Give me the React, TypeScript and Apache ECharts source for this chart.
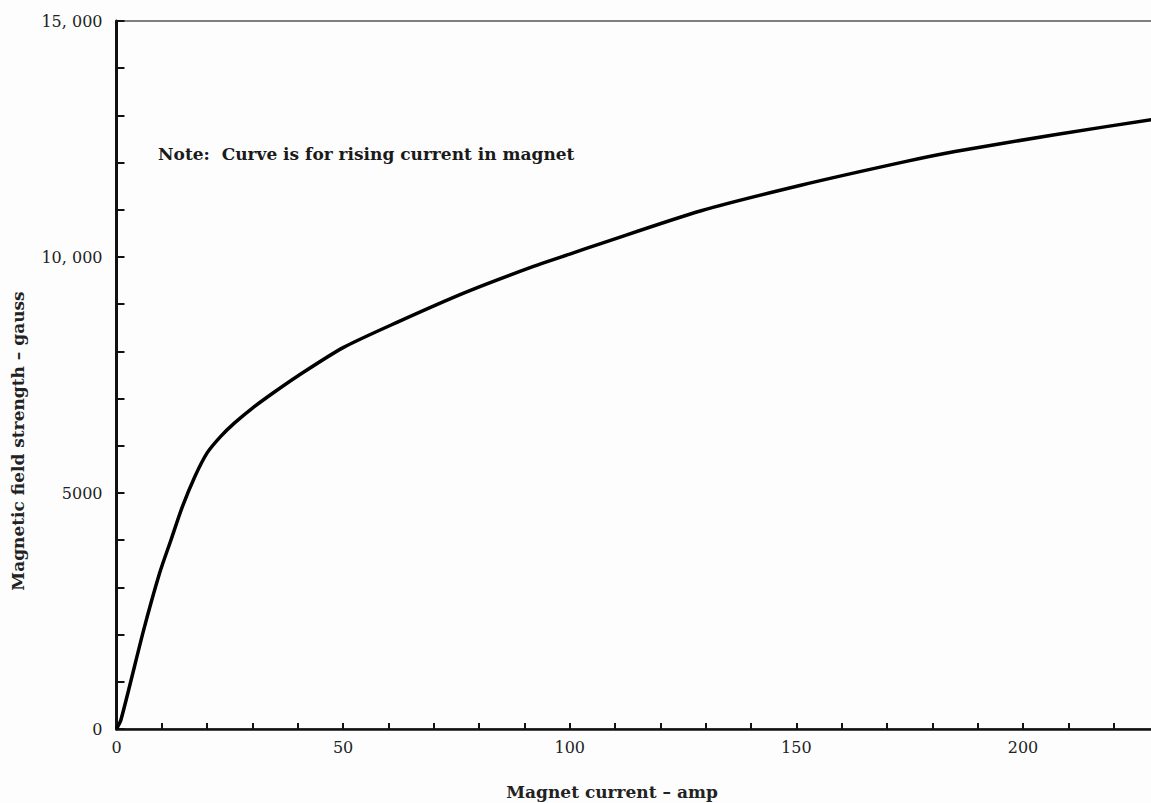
import React, { useEffect, useRef } from "react";
import * as echarts from "echarts";

const currentAmp = [0, 1, 6, 9.5, 12, 14.5, 17.3, 20, 23, 26, 30, 35, 40, 50, 62, 77, 92, 100, 107, 129, 151, 174, 185, 207, 229, 232];
const fieldGauss = [0, 200, 2100, 3300, 4000, 4700, 5350, 5850, 6200, 6480, 6800, 7150, 7480, 8080, 8620, 9250, 9800, 10060, 10290, 10980, 11520, 12020, 12235, 12590, 12920, 12960];
const xLabelValues = [0, 50, 100, 150, 200];
const yLabelMap: Record<number, string> = { 0: "0", 5000: "5000", 10000: "10, 000", 15000: "15, 000" };
const xTitle = "Magnet current – amp";
const yTitle = "Magnetic field strength – gauss";
const noteText = "Note:  Curve is for rising current in magnet";

export default function App() {
  const ref = useRef<HTMLDivElement>(null);
  useEffect(() => {
    document.body.style.margin = "0";
    document.body.style.overflow = "hidden";
    document.documentElement.style.overflow = "hidden";
    const chart = echarts.init(ref.current!, null, { renderer: "svg" });
    const font = "DejaVu Serif";
    chart.setOption({
      animation: false,
      backgroundColor: "#fdfdfd",
      grid: {
        left: 116.5,
        top: 21,
        bottom: 74,
        right: 0,
        show: true,
        borderColor: "#555",
        borderWidth: 1.5,
        backgroundColor: "transparent",
      },
      xAxis: {
        type: "value",
        min: 0,
        max: 232,
        interval: 10,
        axisLine: { show: true, onZero: false, lineStyle: { color: "#111", width: 2.5 } },
        axisTick: { show: true, inside: true, length: 6, lineStyle: { color: "#111", width: 2 } },
        splitLine: { show: false },
        axisLabel: {
          showMaxLabel: false,
          margin: 10,
          color: "#222",
          fontFamily: font,
          fontSize: 16,
          formatter: (v: number) => (xLabelValues.includes(v) ? String(v) : ""),
        },
      },
      yAxis: {
        type: "value",
        min: 0,
        max: 15000,
        interval: 1000,
        axisLine: { show: true, onZero: false, lineStyle: { color: "#111", width: 3 } },
        axisTick: { show: true, inside: true, length: 8, lineStyle: { color: "#111", width: 2 } },
        splitLine: { show: false },
        axisLabel: {
          margin: 14,
          color: "#222",
          fontFamily: font,
          fontSize: 16,
          formatter: (v: number) => yLabelMap[v] ?? "",
        },
      },
      graphic: [
        {
          type: "text",
          left: 158,
          top: 145,
          style: { text: noteText, fontFamily: font, fontSize: 17, fontWeight: "bold", fill: "#1a1a1a" },
        },
        {
          type: "text",
          x: 612,
          y: 792,
          style: { text: xTitle, fontFamily: font, fontSize: 17, fontWeight: "bold", fill: "#222", align: "center", verticalAlign: "middle" },
        },
        {
          type: "text",
          x: 18,
          y: 441,
          rotation: Math.PI / 2,
          style: { text: yTitle, fontFamily: font, fontSize: 17, fontWeight: "bold", fill: "#222", align: "center", verticalAlign: "middle" },
        },
      ],
      series: [
        {
          type: "line",
          data: currentAmp.map((x, i) => [x, fieldGauss[i]]),
          smooth: 0.25,
          symbol: "none",
          lineStyle: { color: "#000", width: 3.5 },
        },
      ],
    });
    return () => chart.dispose();
  }, []);
  return (
    <div style={{ width: 1151, height: 803, overflow: "hidden" }}>
      <div ref={ref} style={{ width: 1168, height: 803 }} />
    </div>
  );
}
